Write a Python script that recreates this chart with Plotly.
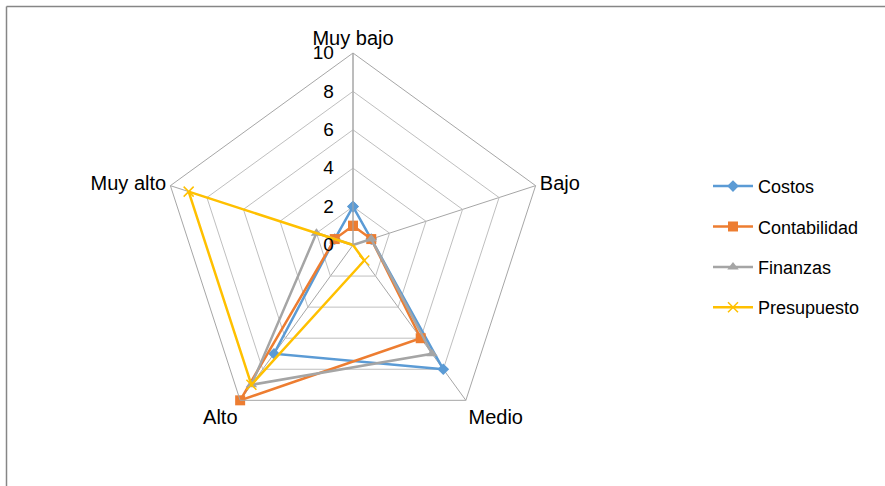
import plotly.graph_objects as go

categories = ["Muy bajo", "Bajo", "Medio", "Alto", "Muy alto"]
series_names = ["Costos", "Contabilidad", "Finanzas", "Presupuesto"]
costos = [2, 1, 8, 7, 1]
contabilidad = [1, 1, 6, 10, 1]
finanzas = [0, 1, 7, 9, 2]
presupuesto = [0, 0, 1, 9, 9]
radial_ticks = [0, 2, 4, 6, 8, 10]

values = [costos, contabilidad, finanzas, presupuesto]
colors = ["#5B9BD5", "#ED7D31", "#A5A5A5", "#FFC000"]
symbols = ["diamond", "square", "triangle-up", "x-thin"]
sizes = [9, 10, 10, 10]

W, H = 885, 486
cx, cy, R = 353, 245, 192

fig = go.Figure()
for name, vals, col, sym, sz in zip(series_names, values, colors, symbols, sizes):
    fig.add_trace(go.Scatterpolar(
        r=vals + [vals[0]],
        theta=categories + [categories[0]],
        mode="lines+markers",
        name=name,
        legendgroup=name,
        line=dict(color=col, width=2.5),
        marker=dict(symbol=sym, size=sz, color=col,
                    line=dict(color=col, width=1.5 if sym == "x-thin" else 0)),
    ))

font = "Liberation Sans, Arial, sans-serif"
fig.update_layout(
    width=W, height=H,
    margin=dict(l=0, r=0, t=0, b=0),
    paper_bgcolor="white",
    plot_bgcolor="white",
    font=dict(family=font, size=18, color="#000000"),
    polar=dict(
        domain=dict(x=[(cx - R) / W, (cx + R) / W], y=[(H - cy - R) / H, (H - cy + R) / H]),
        gridshape="linear",
        bgcolor="white",
        radialaxis=dict(
            range=[0, 10], tickvals=radial_ticks, angle=90, tickangle=90,
            showline=True, linecolor="#A6A6A6", linewidth=1,
            gridcolor="#BFBFBF", gridwidth=1,
            ticks="outside", ticklen=12, tickcolor="rgba(0,0,0,0)",
            tickfont=dict(size=19, family=font, color="#000"),
            side="counterclockwise",
        ),
        angularaxis=dict(
            rotation=90, direction="clockwise",
            showline=True, linecolor="#A6A6A6", linewidth=1,
            gridcolor="#A6A6A6", gridwidth=1, ticks="",
            tickfont=dict(size=20, family=font, color="#000"),
        ),
    ),
    legend=dict(
        x=0.800, y=0.492, xanchor="left", yanchor="middle",
        font=dict(size=18, family=font, color="#000"),
        itemwidth=40, tracegroupgap=14,
        bgcolor="rgba(0,0,0,0)",
    ),
    shapes=[
        dict(type="line", xref="paper", yref="paper", x0=6.5 / W, x1=1, y0=1 - 6.5 / H, y1=1 - 6.5 / H,
             line=dict(color="#868686", width=1.5)),
        dict(type="line", xref="paper", yref="paper", x0=6.5 / W, x1=6.5 / W, y0=0, y1=1 - 6.5 / H,
             line=dict(color="#868686", width=1.5)),
    ],
)

fig.write_html("out.html")
